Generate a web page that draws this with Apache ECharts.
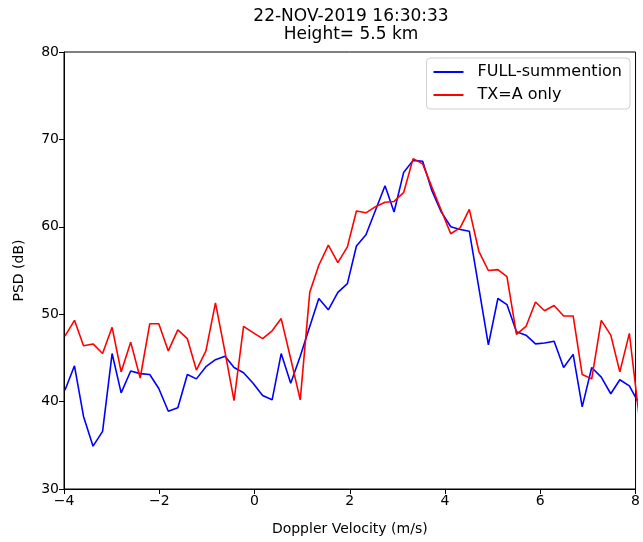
<!DOCTYPE html>
<html>
<head>
<meta charset="utf-8">
<script src="https://cdn.jsdelivr.net/npm/echarts@6/dist/echarts.min.js"></script>
<style>
  html, body { margin: 0; padding: 0; background: #fff; }
  #chart { width: 643px; height: 542px; }
</style>
</head>
<body>
<div id="chart"></div>
<script>
// Doppler velocity bins (m/s)
const velocity = [
  -3.98, -3.78, -3.59, -3.39, -3.19, -2.99, -2.80, -2.60, -2.40, -2.20,
  -2.01, -1.81, -1.61, -1.41, -1.22, -1.02, -0.82, -0.62, -0.43, -0.23,
  -0.03, 0.17, 0.37, 0.56, 0.76, 0.96, 1.16, 1.35, 1.55, 1.75,
  1.95, 2.14, 2.34, 2.54, 2.74, 2.93, 3.13, 3.33, 3.53, 3.72,
  3.92, 4.12, 4.32, 4.51, 4.71, 4.91, 5.11, 5.30, 5.50, 5.70,
  5.90, 6.09, 6.29, 6.49, 6.69, 6.88, 7.08, 7.28, 7.48, 7.67,
  7.87, 8.07
];
// PSD (dB)
const fullSum = [
  41.3, 44.1, 38.3, 34.9, 36.6, 45.5, 41.0, 43.5, 43.2, 43.1,
  41.5, 38.9, 39.3, 43.1, 42.6, 44.0, 44.8, 45.2, 43.9, 43.3,
  42.1, 40.7, 40.2, 45.5, 42.1, 45.2, 48.6, 51.8, 50.5, 52.5,
  53.5, 57.8, 59.1, 61.9, 64.7, 61.7, 66.2, 67.6, 67.5, 64.2,
  61.7, 60.0, 59.7, 59.5, 53.0, 46.5, 51.8, 51.1, 48.0, 47.6,
  46.6, 46.7, 46.9, 43.9, 45.4, 39.4, 43.9, 42.8, 40.9, 42.5,
  41.8, 39.8
];
const txAOnly = [
  47.5, 49.3, 46.4, 46.6, 45.5, 48.5, 43.4, 46.8, 42.7, 48.9,
  48.9, 45.8, 48.2, 47.2, 43.6, 45.8, 51.3, 45.7, 40.1, 48.6,
  47.9, 47.2, 48.1, 49.5, 44.9, 40.2, 52.5, 55.6, 57.9, 55.9,
  57.7, 61.8, 61.6, 62.3, 62.8, 62.9, 63.9, 67.8, 67.2, 64.6,
  61.9, 59.2, 59.9, 62.0, 57.2, 55.0, 55.1, 54.3, 47.7, 48.6,
  51.4, 50.4, 51.0, 49.8, 49.8, 43.1, 42.6, 49.3, 47.6, 43.4,
  47.8, 38.5
];
const seriesNames = ['FULL-summention', 'TX=A only'];
const titleLines = ['22-NOV-2019 16:30:33', 'Height= 5.5 km'];

const font = 'DejaVu Sans';
const toPairs = vals => vals.map((v, i) => [velocity[i], v]);

const chart = echarts.init(document.getElementById('chart'));

const option = {
  animation: false,
  backgroundColor: '#fff',
  textStyle: { fontFamily: font },
  title: [
    {
      text: titleLines[0], left: 351, top: 8, textAlign: 'center', padding: 0,
      textStyle: { fontFamily: font, fontSize: 17, fontWeight: 'normal', color: '#000' }
    },
    {
      text: titleLines[1], left: 351, top: 26, textAlign: 'center', padding: 0,
      textStyle: { fontFamily: font, fontSize: 17, fontWeight: 'normal', color: '#000' }
    }
  ],
  legend: {
    orient: 'vertical',
    right: 13,
    top: 58,
    padding: [6, 8, 6, 7],
    itemGap: 7,
    itemWidth: 30,
    itemHeight: 2,
    icon: 'rect',
    backgroundColor: 'rgba(255,255,255,0.8)',
    borderColor: '#d0d0d0',
    borderWidth: 1,
    borderRadius: 4,
    textStyle: { fontFamily: font, fontSize: 16, color: '#000', padding: [0, 0, 0, 9] },
    data: seriesNames
  },
  grid: {
    left: 64,
    right: 5,
    top: 52,
    bottom: 53,
    show: true,
    borderColor: '#000',
    borderWidth: 1
  },
  xAxis: {
    type: 'value',
    min: -4,
    max: 8,
    interval: 2,
    name: 'Doppler Velocity (m/s)',
    nameLocation: 'middle',
    nameGap: 33,
    nameTextStyle: { fontFamily: font, fontSize: 14, color: '#000' },
    axisLine: { show: true, onZero: false, lineStyle: { color: '#000', width: 1 } },
    axisTick: { show: true, inside: false, length: 5, lineStyle: { color: '#000' } },
    axisLabel: {
      fontFamily: font, fontSize: 14, color: '#000', margin: 5,
      formatter: v => String(v).replace('-', '\u2212')
    },
    splitLine: { show: false }
  },
  yAxis: {
    type: 'value',
    min: 30,
    max: 80,
    interval: 10,
    name: 'PSD (dB)',
    nameLocation: 'middle',
    nameGap: 38,
    nameTextStyle: { fontFamily: font, fontSize: 14, color: '#000' },
    axisLine: { show: true, onZero: false, lineStyle: { color: '#000', width: 1 } },
    axisTick: { show: true, inside: false, length: 5, lineStyle: { color: '#000' } },
    axisLabel: { fontFamily: font, fontSize: 14, color: '#000', margin: 5 },
    splitLine: { show: false }
  },
  series: [
    {
      name: seriesNames[0],
      type: 'line',
      data: toPairs(fullSum),
      symbol: 'none',
      clip: true,
      color: '#0000ff',
      lineStyle: { color: '#0000ff', width: 1.6 }
    },
    {
      name: seriesNames[1],
      type: 'line',
      data: toPairs(txAOnly),
      symbol: 'none',
      clip: true,
      color: '#ff0000',
      lineStyle: { color: '#ff0000', width: 1.6 }
    }
  ]
};

chart.setOption(option);
</script>
</body>
</html>
